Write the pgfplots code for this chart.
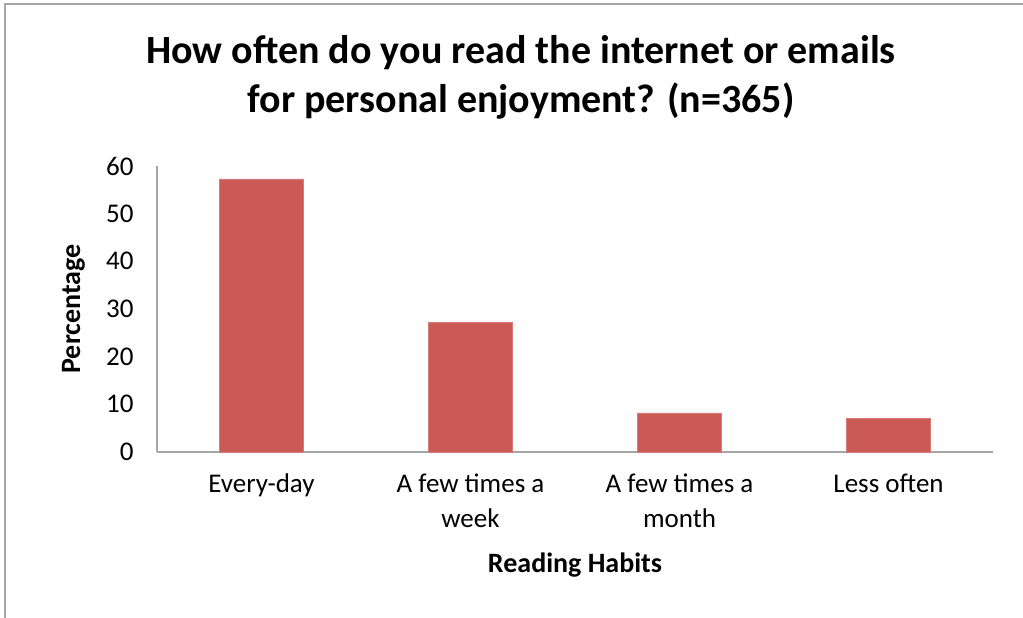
\documentclass[border=0pt]{standalone}
\usepackage{pgfplots}
\pgfplotsset{compat=1.18}
\usepackage{fontspec}
\setmainfont{Carlito}
\definecolor{barred}{HTML}{CB5A57}
\definecolor{axgray}{HTML}{A6A6A6}
\begin{document}
\begin{tikzpicture}[x=1bp,y=1bp]
\path[use as bounding box] (0,0) rectangle (1023,618);
\draw[axgray,line width=2bp] (5,0) -- (5,614) -- (1023,614);
\node[font=\fontsize{40bp}{48bp}\selectfont\bfseries,anchor=base] at (521,554) {How often do you read the internet or emails};
\node[font=\fontsize{40bp}{48bp}\selectfont\bfseries,anchor=base] at (521,505) {for personal enjoyment? (n=365)};
\begin{axis}[
  at={(157bp,166bp)}, anchor=south west,
  scale only axis, width=836bp, height=286bp,
  xmin=-0.5, xmax=3.5, ymin=0, ymax=60,
  ytick={0,10,...,60},
  xtick={0,1,2,3},
  xticklabels={Every-day,A few times a\\week,A few times a\\month,Less often},
  x tick label style={align=center,font=\fontsize{27bp}{35bp}\selectfont,yshift=-18bp},
  y tick label style={font=\fontsize{27bp}{30bp}\selectfont,xshift=-20bp},
  /pgf/number format/assume math mode=true,
  major tick length=0pt,
  axis x line*=bottom, axis y line*=left,
  axis line style={axgray,line width=2bp,-},
  xlabel={\bfseries Reading Habits},
  ylabel={\bfseries Percentage},
  xlabel style={font=\fontsize{28bp}{30bp}\selectfont,at={(axis description cs:0.5,-0.42)},anchor=base},
  ylabel style={font=\fontsize{28bp}{30bp}\selectfont,at={(axis description cs:-0.1,0.5)},anchor=center},
  ybar, bar width=84bp,
  clip=false,
]
\addplot[fill=barred,draw=barred!80!white,line width=0.6bp] coordinates {(0,57.3) (1,27.2) (2,8.2) (3,7.1)};
\end{axis}
\end{tikzpicture}
\end{document}
